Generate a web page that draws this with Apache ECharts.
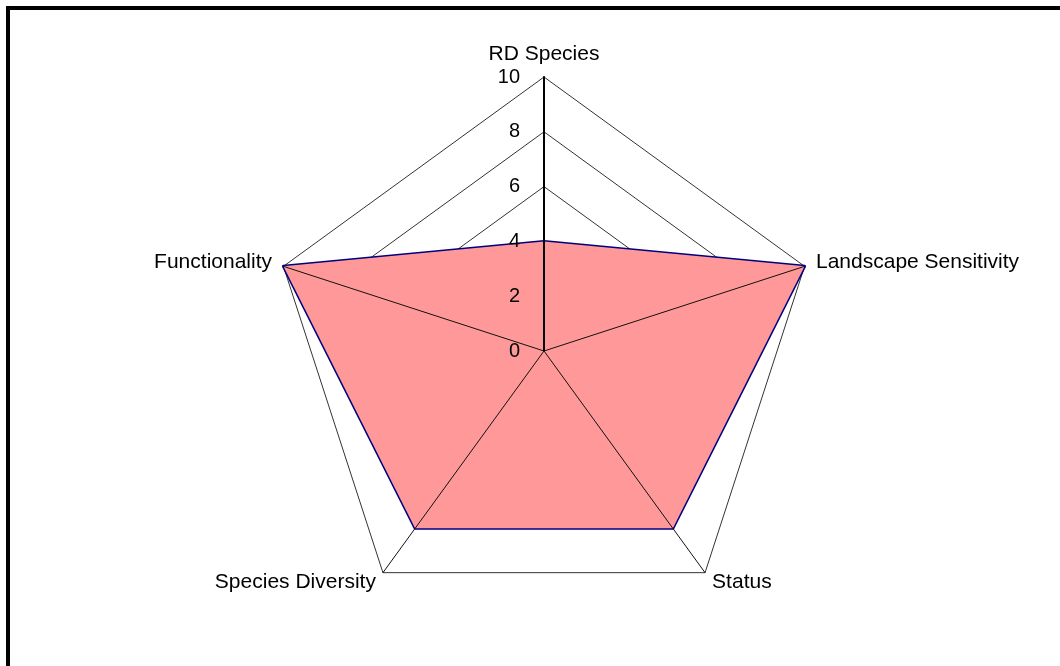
<!DOCTYPE html>
<html>
<head>
<meta charset="utf-8">
<script src="https://cdn.jsdelivr.net/npm/echarts@6/dist/echarts.min.js"></script>
<style>
  html, body { margin: 0; padding: 0; background: #fff; }
  #frame {
    position: absolute; left: 6px; top: 6px; width: 1060px; height: 666px;
    border-left: 4px solid #000; border-top: 4px solid #000;
  }
  #chart { position: absolute; left: 0; top: 0; width: 1060px; height: 666px; }
</style>
</head>
<body>
<div id="frame"></div>
<div id="chart"></div>
<script>
// chart data (clockwise from the top)
const indicatorNames = ['RD Species', 'Landscape Sensitivity', 'Status', 'Species Diversity', 'Functionality'];
const scores = [4, 10, 8, 8, 10];
const axisMax = 10;
const tickLabels = ['0', '2', '4', '6', '8', '10'];

const fontFamily = '"Liberation Sans", Arial, sans-serif';
const center = [544, 351];
const radius = 274;

// echarts lays indicators out counter-clockwise, so keep the first and reverse the rest
const order = [0].concat(indicatorNames.map(function (_, i) { return i; }).slice(1).reverse());
const names = order.map(function (i) { return indicatorNames[i]; });
const values = order.map(function (i) { return scores[i]; });

const chart = echarts.init(document.getElementById('chart'));

// base radar: rings + names (under the filled area)
const baseIndicators = names.map(function (n) {
  return { name: n, min: 0, max: axisMax };
});
// overlay radar: spokes + tick labels (above the filled area)
const topIndicators = names.map(function (n, i) {
  const ind = { name: n, min: 0, max: axisMax };
  if (i === 0) {
    ind.axisLine = { show: true, lineStyle: { color: '#000', width: 2 } };
    ind.axisLabel = {
      show: true, margin: 24, color: '#000', fontSize: 20, fontFamily: fontFamily,
      formatter: function (v) { return tickLabels[Math.round(v / 2)] || ''; }
    };
  }
  return ind;
});

const option = {
  backgroundColor: 'transparent',
  animation: false,
  radar: [
    {
      center: center,
      radius: radius,
      startAngle: 90,
      splitNumber: 5,
      shape: 'polygon',
      indicator: baseIndicators,
      nameGap: 12,
      axisName: { color: '#000', fontSize: 21, fontFamily: fontFamily },
      axisLine: { show: false },
      splitLine: { lineStyle: { color: '#333', width: 1 } },
      splitArea: { show: false },
      axisLabel: { show: false },
      z: 0
    },
    {
      center: center,
      radius: radius,
      startAngle: 90,
      splitNumber: 5,
      shape: 'polygon',
      indicator: topIndicators,
      axisName: { show: false },
      axisLine: { show: true, lineStyle: { color: '#111', width: 1 } },
      splitLine: { show: false },
      splitArea: { show: false },
      axisLabel: { show: false },
      z: 5
    }
  ],
  series: [
    {
      type: 'radar',
      radarIndex: 0,
      z: 2,
      symbol: 'none',
      lineStyle: { color: '#000080', width: 3 },
      areaStyle: { color: '#FF9999', opacity: 1 },
      data: [{ value: values, name: 'Score' }]
    }
  ]
};

chart.setOption(option);
</script>
</body>
</html>
